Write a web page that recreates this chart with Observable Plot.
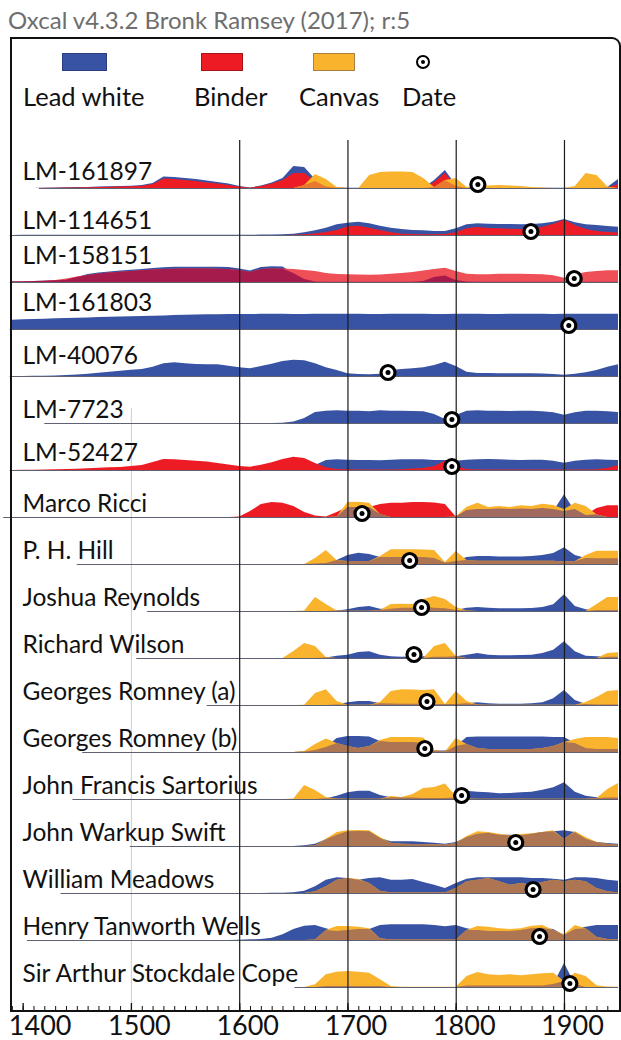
<!DOCTYPE html>
<html>
<head>
<meta charset="utf-8">
<script src="https://cdn.jsdelivr.net/npm/d3@7"></script>
<script src="https://cdn.jsdelivr.net/npm/@observablehq/plot@0.6"></script>
<style>
  html, body { margin: 0; padding: 0; background: #fff; }
  #page { position: relative; width: 621px; height: 1040px; overflow: hidden; font-family: Lato, "Open Sans", sans-serif; }
  #title { position: absolute; left: 8px; top: 8px; font-size: 24px; line-height: 24px; color: #6e6e6e; white-space: nowrap; }
  #chart { position: absolute; left: 0; top: 120px; }
  #frame { position: absolute; left: 10px; top: 37px; width: 611px; height: 975px; box-sizing: border-box;
           border: 2.5px solid #111; border-top-right-radius: 9px; pointer-events: none; }
  .sw { position: absolute; top: 53px; height: 18px; box-sizing: border-box; border: 1px solid; }
  .lg { position: absolute; top: 84px; font-size: 25.5px; line-height: 25.5px; color: #111; white-space: nowrap; }
  #dateKey { position: absolute; left: 416px; top: 55px; width: 14px; height: 14px; box-sizing: border-box;
             border: 2.5px solid #000; border-radius: 50%; background: #fff; }
  #dateKey::after { content: ""; position: absolute; left: 2.5px; top: 2.5px; width: 4px; height: 4px; border-radius: 50%; background: #000; }
</style>
</head>
<body>
<div id="page">
  <div id="title">Oxcal v4.3.2 Bronk Ramsey (2017); r:5</div>
  <div id="chart"></div>
  <div id="frame"></div>
  <div class="sw" style="left:62px;width:45px;background:#3953a4;border-color:#2b3f80"></div>
  <div class="sw" style="left:201px;width:42px;background:#ed1c24;border-color:#a8141a"></div>
  <div class="sw" style="left:313px;width:42px;background:#f9b32d;border-color:#a88040"></div>
  <div id="dateKey"></div>
  <div class="lg" style="left:23px">Lead white</div>
  <div class="lg" style="left:194px">Binder</div>
  <div class="lg" style="left:299px">Canvas</div>
  <div class="lg" style="left:402px">Date</div>
</div>
<script>
// Calendar grid of the probability densities (AD), one value per decade.
const YEARS = d3.range(1390, 1951, 10);

const SAMPLES = [
  "LM-161897", "LM-114651", "LM-158151", "LM-161803", "LM-40076", "LM-7723", "LM-52427",
  "Marco Ricci", "P. H. Hill", "Joshua Reynolds", "Richard Wilson", "Georges Romney (a)",
  "Georges Romney (b)", "John Francis Sartorius", "John Warkup Swift", "William Meadows",
  "Henry Tanworth Wells", "Sir Arthur Stockdale Cope"
];

// Attributed / documented date of each work (AD)
const DATES = [1820, 1869, 1909, 1904, 1737, 1796, 1796, 1713, 1757, 1768, 1761, 1773, 1771, 1805, 1855, 1871, 1877, 1905];

// First year of the plotted calibration range of each row
const RANGE_START = [1415, 1388, 1388, 1388, 1388, 1420, 1388, 1382, 1450, 1515, 1505, 1570, 1455, 1446, 1499, 1435, 1404, 1651];

// Century ticks of the calendar axis
const AXIS_YEARS = [1400, 1500, 1600, 1700, 1800, 1900];

// Densities per decade: 1390 | 1400s | 1500s | 1600s | 1700s | 1800s | 1900-1950
const lead_LM161897 = [0,
  0, 0, 0.3, 0.5, 0.7, 0.9, 1.1, 1.4, 1.7, 2,
  2.3, 3, 5, 11.5, 11, 10, 9, 7.5, 6, 4.5,
  2, 0.5, 2.5, 5.5, 10, 22, 21, 9, 2, 0.5,
  0.3, 0.3, 0.3, 0.3, 0.3, 0.3, 0.3, 0.3, 8, 18,
  3, 0.3, 0.3, 0.3, 0.3, 0.3, 0.3, 0.3, 0.3, 0.3,
  0.3, 0.3, 0.3, 0.3, 1, 9];
const binder_LM161897 = [0,
  0, 0, 0.2, 0.3, 0.5, 0.6, 0.8, 1, 1.2, 1.5,
  1.8, 2.3, 4, 9.5, 9, 8, 7, 5.5, 4.5, 3,
  1.5, 0.3, 2, 4.5, 8, 15, 15, 7, 1.5, 0.3,
  0, 0, 0, 0, 0, 0, 0, 0, 6, 15,
  2, 0, 0, 0, 0, 0, 0, 0, 0, 0,
  0, 0, 0, 0, 0.5, 4];
const canvas_LM161897 = [0,
  0, 0, 0, 0, 0, 0, 0, 0, 0, 0,
  0, 0, 0, 0, 0, 0, 0, 0, 0, 0,
  0, 0, 0, 0, 0, 0, 3, 14, 9, 1,
  0, 0, 13, 16, 16.5, 16.5, 16, 10, 1, 8,
  10, 1, 2.5, 2.5, 3, 2.5, 2, 1, 0.5, 0,
  0, 2, 15, 13, 1.5, 0];

const lead_LM114651 = [0,
  0.2, 0.2, 0.2, 0.2, 0.2, 0.2, 0.2, 0.2, 0.2, 0.2,
  0.3, 0.3, 0.3, 0.3, 0.3, 0.3, 0.3, 0.3, 0.3, 0.3,
  0.3, 0.3, 0.4, 0.5, 0.8, 1.3, 2.7, 4.7, 7.3, 10.7,
  12.3, 13.3, 11.7, 9.3, 7.3, 6, 5, 4.7, 4, 4,
  6.7, 10.7, 11.7, 11.3, 11, 11, 10.7, 11, 11.7, 13.3,
  16, 12.7, 10.7, 10, 9, 8.3];
const binder_LM114651 = [0,
  0, 0, 0, 0, 0, 0, 0, 0, 0, 0,
  0, 0, 0, 0, 0, 0, 0, 0, 0, 0,
  0, 0, 0, 0, 0, 0.3, 0.7, 1.5, 3, 5,
  8.7, 9.3, 7.3, 5, 2.7, 1.3, 1, 0.7, 0.7, 1,
  2.7, 6.7, 8, 7, 6.7, 6.3, 6, 6.7, 8.3, 11.3,
  15.3, 10, 6, 4, 3, 2.5];

const lead_LM158151 = [0.5,
  0.7, 1, 1.3, 1.7, 2.2, 5, 8, 9.5, 10.5, 11.5,
  12.3, 13, 14, 14.7, 15.2, 15.3, 15.3, 15.3, 15.2, 15,
  13.5, 11.5, 15, 15.7, 15.5, 9, 3, 0.5, 0.3, 0.3,
  0.3, 0.3, 0.3, 0.3, 0.3, 0.3, 0.3, 1, 5, 6.5,
  2, 0.5, 0.3, 0.3, 0.3, 0.3, 0.3, 0.3, 0.3, 0.3,
  0.3, 0.3, 0.3, 0.3, 0.3, 0.3];
const binder_LM158151 = [0.4,
  0.6, 0.9, 1.3, 2, 3.5, 5.5, 7, 8.5, 9.5, 10.3,
  11, 11.7, 12.5, 13, 13.3, 13.5, 13.5, 13.5, 13.3, 13,
  12, 10, 13, 13.5, 13.5, 13, 12, 11, 9, 8,
  7.7, 7.5, 7.3, 7.5, 8.3, 9, 10, 11.5, 13, 14.3,
  11, 8.3, 7.7, 7.7, 8.3, 8.3, 8.3, 8, 7.7, 6.7,
  4.3, 7.7, 10, 11, 11.7, 11.7];

const lead_LM161803 = [9.3,
  9.7, 10, 10.3, 10.7, 11, 11.3, 11.6, 12, 12.3, 12.5,
  12.7, 13, 13.3, 13.6, 14, 14.3, 14.5, 14.7, 14.8, 15,
  15, 15, 15.2, 15.3, 15.2, 15, 15, 15.2, 15.3, 15.3,
  15.3, 15.2, 15, 15, 15.2, 15.3, 15.3, 15.2, 15, 15,
  15.3, 15.3, 15.2, 15, 15, 15.2, 15.3, 15.3, 15.2, 15,
  15.3, 15.3, 15.2, 15.2, 15.3, 15.3];

const lead_LM40076 = [0,
  0, 0.2, 0.3, 0.5, 1, 1.5, 2.3, 3.3, 4.3, 5.3,
  6.3, 7, 9.3, 12.7, 13.7, 12.7, 12, 11.7, 11.7, 10.3,
  8.7, 7.7, 10, 12.3, 15, 16.3, 15.7, 12.7, 8.7, 6,
  2.7, 2, 1.7, 2.3, 6, 7, 7.7, 8.7, 11, 14.3,
  10, 4.3, 3, 3, 2.7, 2.7, 2.7, 2.7, 2.5, 2,
  1.3, 2.3, 3.7, 6, 9.3, 11.7];

const lead_LM7723 = [0,
  0, 0, 0, 0, 0, 0, 0, 0, 0, 0,
  0, 0, 0, 0, 0, 0, 0, 0, 0, 0,
  0, 0, 0, 0, 0.3, 1.5, 5, 11, 12.3, 12.7,
  12.3, 12.3, 11.7, 12.7, 12.3, 12.3, 12, 11.7, 9, 4,
  8, 12.3, 12.7, 12.3, 12.3, 12, 12.3, 12.3, 11.7, 10.7,
  8.3, 10.7, 12.3, 12.3, 11.7, 11];

const lead_LM52427 = [0,
  0, 0, 0, 0, 0, 0, 0, 0, 0, 0,
  0, 0, 0, 0, 0, 0, 0, 0, 0, 0,
  0, 0, 0, 0, 0, 0, 0, 5, 10, 10.7,
  10.3, 10, 10, 9.7, 10.3, 10.7, 10.7, 10.7, 10, 10,
  9.3, 10.3, 10.7, 11, 10.7, 10.3, 10, 10.3, 10.3, 9.3,
  7.3, 9.3, 10.3, 10.7, 10.3, 10];
const binder_LM52427 = [0,
  0.2, 0.3, 0.5, 0.7, 1, 1.3, 1.7, 2.2, 2.7, 3,
  4, 5, 8, 11, 10.7, 10, 9.3, 8.5, 7, 5.5,
  4, 3.3, 5.3, 7.7, 11, 13.3, 12, 7, 2.7, 1,
  0.7, 0.5, 0.5, 0.5, 0.5, 0.7, 1.5, 2, 4, 9.3,
  4, 1, 0.5, 0.5, 0.5, 0.5, 0.5, 0.5, 0.5, 0.5,
  0.5, 0.5, 0.5, 0.7, 2, 5];

const lead_Ricci = [0,
  0, 0, 0, 0, 0, 0, 0, 0, 0, 0,
  0, 0, 0, 0, 0, 0, 0, 0, 0, 0,
  0, 0, 0, 0, 0, 0, 0, 0, 0, 0,
  0, 0, 0, 0, 0, 0, 0, 0, 0, 0,
  0, 0, 0, 0, 0, 0, 0, 0, 0, 6,
  22.7, 6, 0, 0, 0, 0];
const binder_Ricci = [0,
  0, 0, 0, 0, 0, 0, 0, 0, 0, 0,
  0, 0, 0, 0, 0, 0, 0, 0, 0, 0,
  0.5, 6, 13, 15, 14.3, 11, 5, 1.5, 0.5, 5,
  10, 10, 10, 13, 14.3, 14.3, 15, 15, 14.5, 13,
  0.5, 7, 8, 8, 8.5, 8, 8.5, 8, 9, 8,
  6, 8, 2, 9, 11.7, 11.7];
const canvas_Ricci = [0,
  0, 0, 0, 0, 0, 0, 0, 0, 0, 0,
  0, 0, 0, 0, 0, 0, 0, 0, 0, 0,
  0, 0, 0, 0, 0, 0, 0, 0, 0, 0.5,
  15, 15.3, 14.3, 3, 0, 0, 0, 0, 0, 0,
  0.5, 10.3, 14.3, 10, 11, 10, 11.7, 11, 13.3, 12,
  8, 14.3, 11, 2.7, 0, 0];

const lead_Hill = [0,
  0, 0, 0, 0, 0, 0, 0, 0, 0, 0,
  0, 0, 0, 0, 0, 0, 0, 0, 0, 0,
  0, 0, 0, 0, 0, 0, 0, 0.5, 1, 4,
  9, 11.3, 10, 7, 7, 7, 7, 7, 6, 1.5,
  3, 7, 8, 8, 7.5, 7.5, 7.5, 8, 9, 11,
  16.7, 9, 6, 5.7, 5.7, 5.7];
const canvas_Hill = [0,
  0, 0, 0, 0, 0, 0, 0, 0, 0, 0,
  0, 0, 0, 0, 0, 0, 0, 0, 0, 0,
  0, 0, 0, 0, 0, 0, 0, 6, 14, 4,
  3, 3, 3, 8, 14.7, 14.7, 14.7, 14.5, 14, 2,
  13, 4, 3.3, 3.3, 3.3, 3.3, 3.3, 3.3, 3.3, 3.3,
  2.5, 3, 9, 13.3, 13.3, 13.3];

const lead_Reynolds = [0,
  0, 0, 0, 0, 0, 0, 0, 0, 0, 0,
  0, 0, 0, 0, 0, 0, 0, 0, 0, 0,
  0, 0, 0, 0, 0, 0, 0, 0, 0, 0.5,
  1.7, 4, 5, 2.3, 2.3, 3.3, 3.3, 4, 3.3, 2.7,
  1, 3.3, 4, 3.3, 2.7, 2.7, 2.7, 3, 4, 6.7,
  16.7, 5, 1.7, 1, 1, 1];
const canvas_Reynolds = [0,
  0, 0, 0, 0, 0, 0, 0, 0, 0, 0,
  0, 0, 0, 0, 0, 0, 0, 0, 0, 0,
  0, 0, 0, 0, 0, 0, 0.5, 14, 7, 0.5,
  0.3, 0.3, 0.3, 1, 7, 7.3, 7, 12, 15, 12,
  4, 0.5, 0, 0, 0, 0, 0, 0, 0, 0,
  0, 0, 0, 7, 14, 14];

const lead_Wilson = [0,
  0, 0, 0, 0, 0, 0, 0, 0, 0, 0,
  0, 0, 0, 0, 0, 0, 0, 0, 0, 0,
  0, 0, 0, 0, 0, 0, 0, 0, 0.5, 2.3,
  3.3, 6, 6.7, 3.3, 1.7, 1.3, 1.7, 1.7, 1.3, 1.3,
  1.7, 3.3, 5, 3.3, 2.7, 2.7, 3, 3.3, 5, 8.3,
  16.7, 6.7, 2.3, 1.7, 1.3, 1.3];
const canvas_Wilson = [0,
  0, 0, 0, 0, 0, 0, 0, 0, 0, 0,
  0, 0, 0, 0, 0, 0, 0, 0, 0, 0,
  0, 0, 0, 0, 0, 7, 15, 12, 1, 0,
  0, 0, 0, 0, 0, 0, 0, 0, 12, 15,
  2, 0, 0, 0, 0, 0, 0, 0, 0, 0,
  0, 0, 0, 0, 5, 5.7];

const lead_RomneyA = [0,
  0, 0, 0, 0, 0, 0, 0, 0, 0, 0,
  0, 0, 0, 0, 0, 0, 0, 0, 0, 0,
  0, 0, 0, 0, 0, 0, 0, 0, 0, 0.5,
  2.7, 4, 4, 1.7, 1.5, 1.3, 1.3, 1.3, 1, 1,
  1, 1.7, 2.7, 1.7, 1.3, 1.3, 1.3, 1.7, 2.7, 6.7,
  15, 5, 1, 0.5, 0.5, 0.5];
const canvas_RomneyA = [0,
  0, 0, 0, 0, 0, 0, 0, 0, 0, 0,
  0, 0, 0, 0, 0, 0, 0, 0, 0, 0,
  0, 0, 0, 0, 0, 0, 0.3, 12, 15.7, 4,
  0.3, 0.3, 0.3, 3, 14, 15.7, 15.5, 15, 15.7, 1,
  14, 4, 0.5, 0.3, 0.3, 0.3, 0.3, 0.3, 0.3, 0.3,
  0.3, 0.3, 3, 8, 14, 15];

const lead_RomneyB = [0,
  0, 0, 0, 0, 0, 0, 0, 0, 0, 0,
  0, 0, 0, 0, 0, 0, 0, 0, 0, 0,
  0, 0, 0, 0, 0, 0, 0.5, 2, 5, 14,
  16, 16, 15.5, 11, 10, 10, 10, 9, 1.5, 1.5,
  6, 15, 15.5, 15.5, 15.5, 15.5, 15.5, 15.5, 15.5, 15,
  15, 9, 4, 3, 3, 3];
const canvas_RomneyB = [0,
  0, 0, 0, 0, 0, 0, 0, 0, 0, 0,
  0, 0, 0, 0, 0, 0, 0, 0, 0, 0,
  0, 0, 0, 0, 0, 0, 1, 8, 13.5, 9,
  6, 4, 6, 12, 15, 15, 15, 14.5, 2, 0.5,
  14, 8, 4, 3, 3, 3, 3, 3, 4, 6,
  10, 13, 15, 15, 15, 14];

const lead_Sartorius = [0,
  0, 0, 0, 0, 0, 0, 0, 0, 0, 0,
  0, 0, 0, 0, 0, 0, 0, 0, 0, 0,
  0, 0, 0, 0, 0, 0, 0, 0, 0.7, 3.3,
  6.7, 8.3, 8.3, 4, 1.7, 1.5, 1.5, 1, 1, 1,
  1.7, 8.3, 7.3, 6.7, 5.7, 6, 6.7, 7.3, 9.3, 11.7,
  16.7, 7.3, 3.3, 1.7, 1.5, 1.5];
const canvas_Sartorius = [0,
  0, 0, 0, 0, 0, 0, 0, 0, 0, 0,
  0, 0, 0, 0, 0, 0, 0, 0, 0, 0,
  0, 0, 0, 0, 0, 0.5, 14, 9, 2, 0.5,
  0.3, 0.3, 0.3, 0.3, 3, 2, 5, 11, 12, 15.5,
  3, 0.5, 0.3, 0.3, 0.3, 0.3, 0.3, 0.3, 0.3, 0.3,
  0.3, 0.3, 0.3, 1, 10, 16];

const lead_Swift = [0,
  0, 0, 0, 0, 0, 0, 0, 0, 0, 0,
  0, 0, 0, 0, 0, 0, 0, 0, 0, 0,
  0, 0, 0, 0, 0, 0, 0.7, 2.3, 6.7, 11.3,
  14.7, 15, 14.7, 8, 4.7, 4.7, 4.7, 4, 3.3, 2.3,
  4, 9, 12.3, 13.3, 11.3, 11.3, 10.7, 12.3, 14, 14.7,
  15.7, 14, 7.3, 4, 3, 2.3];
const canvas_Swift = [0,
  0, 0, 0, 0, 0, 0, 0, 0, 0, 0,
  0, 0, 0, 0, 0, 0, 0, 0, 0, 0,
  0, 0, 0, 0, 0, 0, 0, 0.5, 7.3, 14,
  15.7, 16, 15.7, 9, 3.3, 2.3, 2, 2, 1.7, 1.3,
  3.3, 10, 14.7, 14, 12.3, 10.7, 12, 12.7, 14, 15.7,
  7.3, 14.7, 9, 4, 2.3, 1.3];

const lead_Meadows = [0,
  0, 0, 0, 0, 0, 0, 0, 0, 0, 0,
  0, 0, 0, 0, 0, 0, 0, 0, 0, 0,
  0, 0, 0, 0.2, 0.3, 0.7, 2.3, 6.7, 13.3, 15.7,
  15, 13.3, 15, 15.7, 13.3, 13.3, 14, 11, 8.3, 5,
  10, 14.3, 15.7, 15.7, 15.7, 15.7, 15.7, 15, 15, 14.3,
  13.3, 15.7, 15.7, 15, 13.3, 12.3];
const canvas_Meadows = [0,
  0, 0, 0, 0, 0, 0, 0, 0, 0, 0,
  0, 0, 0, 0, 0, 0, 0, 0, 0, 0,
  0, 0, 0, 0, 0, 0, 0, 1.7, 6.7, 13.3,
  15, 14, 10, 2.3, 0.5, 0.5, 0.5, 0.5, 0.5, 0.5,
  5, 11.7, 13.3, 15, 11.7, 8.3, 10, 8.3, 11, 13.3,
  11.7, 13.3, 11.7, 5, 1.7, 0.5];

const lead_Wells = [0,
  0, 0, 0, 0, 0, 0, 0, 0, 0, 0,
  0, 0, 0, 0, 0, 0, 0, 0, 0, 0,
  0.3, 0.7, 1, 2.3, 5.7, 11, 14.3, 15, 11.7, 9,
  10, 11, 11, 15, 15.7, 15.7, 15.7, 15.7, 15, 13.7,
  15, 11.7, 10, 9, 9, 9, 10, 11.7, 12.3, 11,
  5, 11, 13.3, 15, 15, 15];
const canvas_Wells = [0,
  0, 0, 0, 0, 0, 0, 0, 0, 0, 0,
  0, 0, 0, 0, 0, 0, 0, 0, 0, 0,
  0, 0, 0, 0, 0, 0, 0, 0.5, 10, 14,
  14, 13.3, 11.7, 1.7, 0.5, 0.5, 0.5, 0.5, 0.5, 0.5,
  0.5, 10, 14, 13.3, 11.7, 11, 11.7, 14.3, 15, 10,
  5.7, 15, 11.7, 3.3, 1, 0.5];

const lead_Cope = [0,
  0, 0, 0, 0, 0, 0, 0, 0, 0, 0,
  0, 0, 0, 0, 0, 0, 0, 0, 0, 0,
  0, 0, 0, 0, 0, 0, 0, 0, 1, 1,
  1, 1, 1, 1, 0, 0, 0, 0, 0, 0,
  0, 1.5, 1.5, 1.5, 1.5, 1.5, 1.5, 1.5, 1.5, 3,
  24, 3, 0, 0, 0, 0];
const canvas_Cope = [0,
  0, 0, 0, 0, 0, 0, 0, 0, 0, 0,
  0, 0, 0, 0, 0, 0, 0, 0, 0, 0,
  0, 0, 0, 0, 0, 0, 0, 2.7, 12.7, 15.3,
  16, 15.3, 14.3, 7.7, 1, 0.3, 0.3, 0.3, 0.3, 0.3,
  0.3, 11, 15, 12.7, 12, 12.7, 11.7, 12.7, 13.7, 14.3,
  6, 14.3, 11, 1.7, 0.5, 0.3];

// Fill colours of each material and of the overlaps where two densities share the same span
const PALETTE = {
  lead: "#3953a4",
  binder: "#ed1c24",
  canvas: "#f9b32d",
  binderPale: "#ef5058",
  leadBinder: "#a51b4b",
  canvasBinder: "#e8792e",
  canvasBinderDull: "#a06a5e",
  leadCanvas: "#ad7551"
};

// Drawing order of the layers in every row; a pair of series draws their common part
const LAYERS = [
  [[lead_LM161897, "lead"], [binder_LM161897, "binder"], [canvas_LM161897, "canvas"], [[canvas_LM161897, binder_LM161897], "canvasBinder"]],
  [[lead_LM114651, "lead"], [binder_LM114651, "binder"]],
  [[lead_LM158151, "lead"], [binder_LM158151, "binderPale"], [[lead_LM158151, binder_LM158151], "leadBinder"]],
  [[lead_LM161803, "lead"]],
  [[lead_LM40076, "lead"]],
  [[lead_LM7723, "lead"]],
  [[lead_LM52427, "lead"], [binder_LM52427, "binder"]],
  [[lead_Ricci, "lead"], [binder_Ricci, "binder"], [canvas_Ricci, "canvas"], [[binder_Ricci, canvas_Ricci], "canvasBinderDull"]],
  [[lead_Hill, "lead"], [canvas_Hill, "canvas"], [[lead_Hill, canvas_Hill], "leadCanvas"]],
  [[lead_Reynolds, "lead"], [canvas_Reynolds, "canvas"], [[lead_Reynolds, canvas_Reynolds], "leadCanvas"]],
  [[lead_Wilson, "lead"], [canvas_Wilson, "canvas"], [[lead_Wilson, canvas_Wilson], "leadCanvas"]],
  [[lead_RomneyA, "lead"], [canvas_RomneyA, "canvas"], [[lead_RomneyA, canvas_RomneyA], "leadCanvas"]],
  [[lead_RomneyB, "lead"], [canvas_RomneyB, "canvas"], [[lead_RomneyB, canvas_RomneyB], "leadCanvas"]],
  [[lead_Sartorius, "lead"], [canvas_Sartorius, "canvas"], [[lead_Sartorius, canvas_Sartorius], "leadCanvas"]],
  [[lead_Swift, "lead"], [canvas_Swift, "canvas"], [[lead_Swift, canvas_Swift], "leadCanvas"]],
  [[lead_Meadows, "lead"], [canvas_Meadows, "canvas"], [[lead_Meadows, canvas_Meadows], "leadCanvas"]],
  [[lead_Wells, "lead"], [canvas_Wells, "canvas"], [[lead_Wells, canvas_Wells], "leadCanvas"]],
  [[lead_Cope, "lead"], [canvas_Cope, "canvas"], [[lead_Cope, canvas_Cope], "leadCanvas"]]
];

const ROW = 47;            // density units between two baselines
const isPair = (src) => Array.isArray(src[0]);
const valuesOf = (src) => isPair(src) ? src[0].map((v, j) => Math.min(v, src[1][j])) : src;

const areas = [];
SAMPLES.forEach((name, i) => {
  LAYERS[i].forEach(([src, style], k) => {
    valuesOf(src).forEach((v, j) => {
      areas.push({key: `${i}-${k}`, year: YEARS[j], base: i * ROW, top: i * ROW - v, fill: PALETTE[style]});
    });
  });
});

const rows = SAMPLES.map((name, i) => {
  // lift the name above whatever density lies under it
  const under = d3.max(LAYERS[i], ([src]) => isPair(src) ? 0 : d3.max(src.filter((_, j) => YEARS[j] <= 1500)));
  return {name, base: i * ROW, labelY: i * ROW - under, start: RANGE_START[i], end: 1950, date: DATES[i]};
});

const W = 621, H = 920, MT = 20, MB = 30;
const axisLabel = {x: (d) => d, text: (d) => String(d), frameAnchor: "bottom", lineAnchor: "bottom",
  dy: 24, fontSize: 27, fill: "#111"};

const chart = Plot.plot({
  width: W,
  height: H,
  marginTop: MT,
  marginBottom: MB,
  marginLeft: 10,
  marginRight: 3,
  x: {domain: [1388.3, 1949.9], axis: null},
  y: {domain: [0, (SAMPLES.length - 1) * ROW], range: [68, 68 + (SAMPLES.length - 1) * 47], axis: null},
  color: {type: "identity"},
  style: {fontFamily: "Lato, 'Open Sans', sans-serif", overflow: "visible", background: "transparent"},
  marks: [
    Plot.ruleX([1500], {stroke: "#d4d4d4", strokeWidth: 1.2, insetTop: 268}),
    Plot.ruleY(rows, {y: "base", x1: "start", x2: "end", stroke: "#5d6172", strokeWidth: 1}),
    Plot.areaY(areas, {x: "year", y1: "base", y2: "top", z: "key", fill: "fill", clip: true}),
    Plot.ruleX(AXIS_YEARS.filter((d) => d >= 1600), {stroke: "#1a1a1a", strokeWidth: 1.2}),
    Plot.tickX(d3.range(1390, 1950, 10), {stroke: "#111", strokeWidth: 1, insetTop: H - MT - MB - 4}),
    Plot.tickX(AXIS_YEARS, {stroke: "#111", strokeWidth: 1.3, insetTop: H - MT - MB - 7}),
    // the first label is nudged clear of the frame edge
    Plot.text(AXIS_YEARS.slice(0, 1), {...axisLabel, dx: 17}),
    Plot.text(AXIS_YEARS.slice(1), {...axisLabel, dx: 8}),
    Plot.text(rows, {y: "labelY", text: "name", frameAnchor: "left", textAnchor: "start", lineAnchor: "bottom",
      dx: 12, dy: -6, fontSize: 24.5, fill: "#111"}),
    Plot.dot(rows, {x: "date", y: "base", dy: -4, r: 7, fill: "white", stroke: "black", strokeWidth: 3.2}),
    Plot.dot(rows, {x: "date", y: "base", dy: -4, r: 2.5, fill: "black"})
  ]
});

document.getElementById("chart").append(chart);
</script>
</body>
</html>
